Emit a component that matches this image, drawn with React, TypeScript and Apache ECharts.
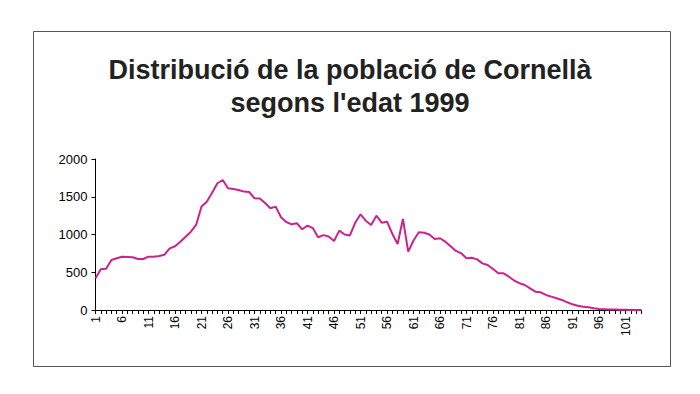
import React, { useEffect, useRef } from "react";
import * as echarts from "echarts";

const TITLE_LINE_1 = "Distribució de la població de Cornellà";
const TITLE_LINE_2 = "segons l'edat 1999";

const AGES: string[] = Array.from({ length: 104 }, (_, i) => String(i + 1));

const POPULATION: number[] = [
  420, 540, 545, 662, 685, 706, 702, 698, 676, 676,
  706, 706, 715, 733, 817, 845, 905, 971, 1037, 1130,
  1370, 1435, 1554, 1679, 1722, 1612, 1603, 1590, 1568, 1563,
  1480, 1478, 1418, 1347, 1369, 1228, 1165, 1135, 1149, 1069,
  1117, 1085, 963, 992, 973, 914, 1051, 1000, 988, 1155,
  1268, 1183, 1126, 1250, 1157, 1170, 1010, 874, 1206, 773,
  920, 1029, 1024, 1000, 941, 950, 905, 844, 782, 751,
  685, 693, 671, 618, 596, 543, 486, 486, 441, 390,
  355, 331, 287, 243, 234, 199, 177, 155, 133, 102,
  75, 57, 44, 35, 22, 13, 10, 7, 5, 3,
  2, 1, 1, 0,
];

const Y_MIN = 0;
const Y_MAX = 2000;
const Y_STEP = 500;

export default function App() {
  const ref = useRef<HTMLDivElement>(null);

  useEffect(() => {
    if (!ref.current) return;
    const chart = echarts.init(ref.current, null, { renderer: "svg" });
    const font = "'Liberation Sans', Arial, sans-serif";
    chart.setOption({
      animation: false,
      backgroundColor: "#ffffff",
      textStyle: { fontFamily: font },
      title: {
        text: TITLE_LINE_1 + "\n" + TITLE_LINE_2,
        left: 350,
        top: 53,
        padding: 0,
        textAlign: "center",
        textStyle: {
          fontFamily: font,
          fontSize: 27,
          fontWeight: "bold",
          color: "#222222",
          lineHeight: 33,
        },
      },
      graphic: [
        {
          type: "rect",
          shape: { x: 33.5, y: 31.5, width: 637, height: 335 },
          style: { fill: "none", stroke: "#555555", lineWidth: 1 },
          silent: true,
        },
      ],
      grid: { left: 95.5, right: 58.6, top: 159, bottom: 84 },
      xAxis: {
        type: "category",
        data: AGES,
        boundaryGap: false,
        axisLine: { show: true, lineStyle: { color: "#000000", width: 1 } },
        axisTick: { show: true, interval: 0, length: 4, lineStyle: { color: "#000000" } },
        axisLabel: {
          interval: 4,
          rotate: 90,
          margin: 6,
          fontSize: 12,
          color: "#000000",
          fontFamily: font,
        },
        splitLine: { show: false },
      },
      yAxis: {
        type: "value",
        min: Y_MIN,
        max: Y_MAX,
        interval: Y_STEP,
        axisLine: { show: true, lineStyle: { color: "#000000", width: 1 } },
        axisTick: { show: true, length: 4, lineStyle: { color: "#000000" } },
        axisLabel: {
          fontSize: 13,
          color: "#000000",
          margin: 8,
          fontFamily: font,
          formatter: (v: number) => String(v),
        },
        splitLine: { show: false },
      },
      series: [
        {
          type: "line",
          data: POPULATION,
          showSymbol: false,
          symbol: "none",
          lineStyle: { color: "#CC2290", width: 2 },
          itemStyle: { color: "#CC2290" },
        },
      ],
    });
    return () => chart.dispose();
  }, []);

  return (
    <div
      ref={ref}
      style={{ position: "fixed", left: 0, top: 0, width: 700, height: 394 }}
    />
  );
}
